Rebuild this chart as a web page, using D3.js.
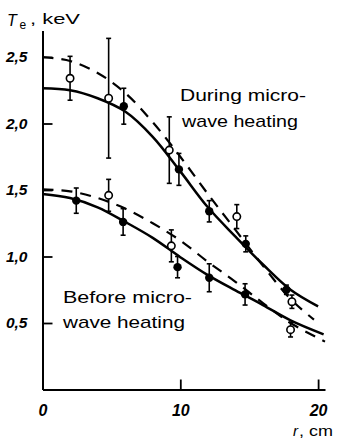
<!DOCTYPE html>
<html>
<head>
<meta charset="utf-8">
<script src="https://cdn.jsdelivr.net/npm/d3@7"></script>
<style>
  body { margin: 0; background: #fff; }
  svg { display: block; font-family: "Liberation Sans", Arial, sans-serif; }
</style>
</head>
<body>
<svg id="chart" width="349" height="439"></svg>
<script>
// fitted curves (r in cm, Te in keV)
const duringSolidR = [0, 2, 4, 6, 8, 10, 12, 14, 16, 18, 20];
const duringSolidT = [2.265, 2.25, 2.19, 2.09, 1.90, 1.64, 1.37, 1.15, 0.94, 0.75, 0.625];
const duringDashR = [0, 2, 4, 6, 8, 10, 12, 14, 16, 18, 19.7];
const duringDashT = [2.5, 2.47, 2.38, 2.23, 2.01, 1.75, 1.47, 1.20, 0.93, 0.68, 0.525];
const beforeSolidR = [0, 2, 4, 6, 8, 10, 12, 14, 16, 18, 20.4];
const beforeSolidT = [1.47, 1.44, 1.37, 1.26, 1.14, 0.995, 0.86, 0.745, 0.635, 0.52, 0.415];
const beforeDashR = [0, 2, 4, 6, 8, 10, 12, 14, 16, 18, 20.5];
const beforeDashT = [1.505, 1.49, 1.44, 1.36, 1.25, 1.12, 0.96, 0.81, 0.65, 0.5, 0.36];

// measured points with error bars
const duringOpenR = [2.0, 4.8, 9.2, 14.1, 18.1];
const duringOpenT = [2.34, 2.19, 1.80, 1.30, 0.66];
const duringOpenErr = [0.165, 0.45, 0.25, 0.09, 0.05];
const duringFilledR = [5.9, 9.9, 12.1, 14.75, 17.7];
const duringFilledT = [2.13, 1.655, 1.34, 1.095, 0.75];
const duringFilledErr = [0.135, 0.12, 0.08, 0.06, 0.035];
const beforeOpenR = [4.8, 9.35, 18.0];
const beforeOpenT = [1.46, 1.08, 0.45];
const beforeOpenErr = [0.12, 0.12, 0.055];
const beforeFilledR = [2.45, 5.85, 9.8, 12.1, 14.7];
const beforeFilledT = [1.42, 1.26, 0.92, 0.84, 0.715];
const beforeFilledErr = [0.095, 0.1, 0.08, 0.105, 0.08];

const yTicks = [0.5, 1, 1.5, 2, 2.5];
const yTickLabels = ['0,5', '1,0', '1,5', '2,0', '2,5'];
const xTicks = [0, 10, 20];
const xTickLabels = ['0', '10', '20'];

const svg = d3.select('#chart');
const x = d3.scaleLinear().domain([0, 20.5]).range([42.5, 325]);
const y = d3.scaleLinear().domain([0, 2.7]).range([389.5, 30.4]);

// axes, ticks pointing inward
const yAxis = svg.append('g')
    .attr('transform', `translate(${x(0)},0)`)
    .call(d3.axisLeft(y).tickValues(yTicks).tickSize(-10).tickSizeOuter(0).tickPadding(15)
        .tickFormat((d, i) => yTickLabels[i]));
const xAxis = svg.append('g')
    .attr('transform', `translate(0,${y(0)})`)
    .call(d3.axisBottom(x).tickValues(xTicks).tickSize(-10).tickSizeOuter(0).tickPadding(15)
        .tickFormat((d, i) => xTickLabels[i]));

[yAxis, xAxis].forEach(g => {
    g.attr('font-family', null).attr('font-size', null);
    g.select('.domain').attr('stroke', '#000').attr('stroke-width', 2);
    g.selectAll('.tick line').attr('stroke', '#000').attr('stroke-width', 1.8);
    g.selectAll('.tick text')
        .attr('fill', '#000')
        .style('font-size', '15.5px')
        .style('font-weight', 'bold')
        .style('font-style', 'italic');
});
xAxis.selectAll('.tick text').style('font-size', '16px');

// curves
const line = d3.line()
    .x(d => x(d[0]))
    .y(d => y(d[1]))
    .curve(d3.curveCatmullRom.alpha(0.5));

function curve(rs, ts, dashed) {
    svg.append('path')
        .datum(d3.zip(rs, ts))
        .attr('d', line)
        .attr('fill', 'none')
        .attr('stroke', '#000')
        .attr('stroke-width', dashed ? 2.2 : 2.5)
        .attr('stroke-dasharray', dashed ? '11,8' : null);
}
curve(duringSolidR, duringSolidT, false);
curve(duringDashR, duringDashT, true);
curve(beforeSolidR, beforeSolidT, false);
curve(beforeDashR, beforeDashT, true);

// points
function points(rs, ts, errs, open) {
    const data = d3.zip(rs, ts, errs);
    const g = svg.append('g');
    const bars = g.selectAll('.bar').data(data).enter().append('g');
    bars.append('line')
        .attr('x1', d => x(d[0])).attr('x2', d => x(d[0]))
        .attr('y1', d => y(d[1] + d[2])).attr('y2', d => y(d[1] - d[2]));
    bars.append('line')
        .attr('x1', d => x(d[0]) - 2.5).attr('x2', d => x(d[0]) + 2.5)
        .attr('y1', d => y(d[1] + d[2])).attr('y2', d => y(d[1] + d[2]));
    bars.append('line')
        .attr('x1', d => x(d[0]) - 2.5).attr('x2', d => x(d[0]) + 2.5)
        .attr('y1', d => y(d[1] - d[2])).attr('y2', d => y(d[1] - d[2]));
    bars.selectAll('line').attr('stroke', '#000').attr('stroke-width', 1.6);
    g.selectAll('circle').data(data).enter().append('circle')
        .attr('cx', d => x(d[0]))
        .attr('cy', d => y(d[1]))
        .attr('r', open ? 3.7 : 4.2)
        .attr('fill', open ? '#fff' : '#000')
        .attr('stroke', '#000')
        .attr('stroke-width', open ? 1.6 : 0);
}
points(duringOpenR, duringOpenT, duringOpenErr, true);
points(duringFilledR, duringFilledT, duringFilledErr, false);
points(beforeOpenR, beforeOpenT, beforeOpenErr, true);
points(beforeFilledR, beforeFilledT, beforeFilledErr, false);

// labels
function label(txt, px, py, len, size) {
    return svg.append('text')
        .attr('x', px).attr('y', py)
        .attr('textLength', len)
        .attr('lengthAdjust', 'spacingAndGlyphs')
        .style('font-size', size + 'px')
        .attr('fill', '#000')
        .text(txt);
}
label('During micro-', 180, 100.5, 126, 17);
label('wave heating', 182, 126.5, 116, 17);
label('Before micro-', 63, 302.5, 129, 17);
label('wave heating', 63, 328, 122, 17);

// axis titles
svg.append('text').attr('x', 7).attr('y', 26)
    .style('font-size', '16px').style('font-style', 'italic').text('T');
svg.append('text').attr('x', 19.5).attr('y', 28.5)
    .style('font-size', '12px').text('e');
label(', keV', 30, 23.5, 50, 15);

svg.append('text').attr('x', 293).attr('y', 436)
    .style('font-size', '15px').style('font-style', 'italic').text('r');
label(', cm', 299, 436, 34, 15);
</script>
</body>
</html>
